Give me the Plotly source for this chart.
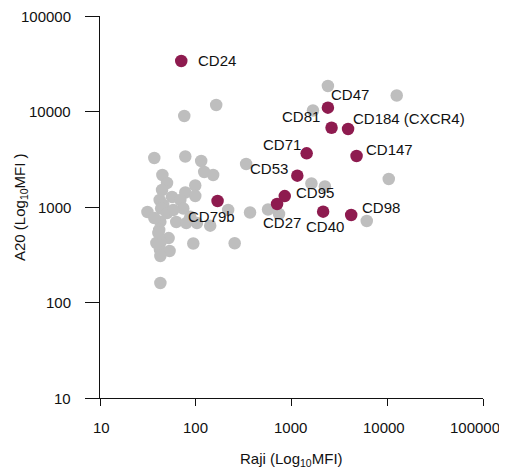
import math
import plotly.graph_objects as go

# Highlighted markers (Raji MFI, A20 MFI)
hl_names = ["CD24", "CD47", "CD81", "CD184 (CXCR4)", "CD71", "CD147",
            "CD53", "CD95", "CD27", "CD79b", "CD40", "CD98"]
hl_raji = [70.6, 2400, 2620, 3900, 1440, 4780, 1150, 850, 707, 169, 2140, 4200]
hl_a20 = [33800, 10960, 6760, 6560, 3650, 3420, 2130, 1300, 1075, 1156, 893, 825]

# Other (grey) markers
grey_raji = [163.5, 75.9, 36.9, 77.8, 114, 122.6, 152, 336, 2400, 1675,
             12560, 10370, 1615, 2234, 6110, 369, 569, 741, 255, 94.2,
             218, 141.6, 42.7, 31.3, 44.8, 50.1, 44.5, 98.8, 77.8, 98.8,
             56.5, 69, 42.0, 45.8, 74.1, 43.5, 50.1, 87.7, 102.9, 42.7,
             41.5, 52.1, 43.0, 42.3, 53.3, 42.7, 38.8, 36.9, 58.3, 62.6,
             79.6, 40.7]
grey_a20 = [11700, 8970, 3260, 3380, 3030, 2325, 2163, 2820, 18490, 10240,
            14710, 1963, 1762, 1640, 713, 875, 942, 845, 417, 415,
            931, 637, 160, 887, 2163, 1783, 1507, 1680, 1418, 1303,
            1274, 1184, 1184, 1050, 964, 964, 865, 791, 679, 702,
            574, 473, 430, 355, 346, 307, 420, 767, 931, 697,
            679, 535]

# label offsets (pixels) and anchors
lab_dx = [15, 1, -10, 3, -4, 7, -7, 9, 5, -6, 2, 9]
lab_dy = [0, 13, 11, 10.5, 9, 7, 7, 4, -18, -15.5, -14.5, 7]
lab_anchor = ["left", "left", "right", "left", "right", "left",
              "right", "left", "center", "center", "center", "left"]

tickvals = [10, 100, 1000, 10000, 100000]
ticktext = ["10", "100", "1000", "10000", "100000"]
xtick_dx = [1, 0, -1, -3, -8]

FONT = "Liberation Sans, Arial, sans-serif"
GREY = "#BEBEBE"
MAG = "#8E1B4F"
FS = 15

fig = go.Figure()
fig.add_trace(go.Scatter(x=grey_raji, y=grey_a20, mode="markers",
                         marker=dict(size=12.5, color=GREY, line=dict(width=0)),
                         hoverinfo="x+y", showlegend=False))
fig.add_trace(go.Scatter(x=hl_raji, y=hl_a20, mode="markers",
                         marker=dict(size=12.5, color=MAG, line=dict(width=0)),
                         text=hl_names, hoverinfo="text+x+y", showlegend=False))

# annotations on log axes use log10 coordinates
for name, xv, yv, dx, dy, anc in zip(hl_names, hl_raji, hl_a20, lab_dx, lab_dy, lab_anchor):
    fig.add_annotation(x=math.log10(xv), y=math.log10(yv), xref="x", yref="y",
                       text=name, showarrow=False,
                       xanchor=anc, yanchor="middle", xshift=dx, yshift=dy,
                       font=dict(family=FONT, size=FS, color="#111"))

# tick labels drawn as annotations so edge labels stay visible
for tv, tt, dx in zip(tickvals, ticktext, xtick_dx):
    fig.add_annotation(x=math.log10(tv), y=0, xref="x", yref="paper", text=tt,
                       showarrow=False, xanchor="center", yanchor="middle",
                       xshift=dx, yshift=-29,
                       font=dict(family=FONT, size=FS, color="#111"))
for tv, tt in zip(tickvals, ticktext):
    fig.add_annotation(x=0, y=math.log10(tv), xref="paper", yref="y", text=tt,
                       showarrow=False, xanchor="right", yanchor="middle",
                       xshift=-27, yshift=0,
                       font=dict(family=FONT, size=FS, color="#111"))

fig.add_annotation(x=0.5, y=0, xref="paper", yref="paper",
                   text="Raji (Log<sub>10</sub>MFI)", showarrow=False,
                   xanchor="center", yanchor="middle", yshift=-61,
                   font=dict(family=FONT, size=FS, color="#111"))
fig.add_annotation(x=0, y=0.5, xref="paper", yref="paper",
                   text="A20 (Log<sub>10</sub>MFI )", showarrow=False, textangle=-90,
                   xanchor="center", yanchor="middle", xshift=-80,
                   font=dict(family=FONT, size=FS, color="#111"))

axis_common = dict(type="log", range=[1, 5], tickvals=tickvals,
                   showline=True, linecolor="#111", linewidth=1.3, ticks="outside",
                   tickwidth=1.3, tickcolor="#111", showgrid=False, zeroline=False,
                   automargin=False, showticklabels=False)

# page body has an 8px margin, so the figure is sized/offset to compensate
fig.update_layout(
    width=499, height=465,
    margin=dict(l=91.5, r=24, t=8, b=75),
    paper_bgcolor="white", plot_bgcolor="white",
    xaxis=dict(**axis_common, ticklen=7),
    yaxis=dict(**axis_common, ticklen=14),
)

fig.write_html("out.html")
